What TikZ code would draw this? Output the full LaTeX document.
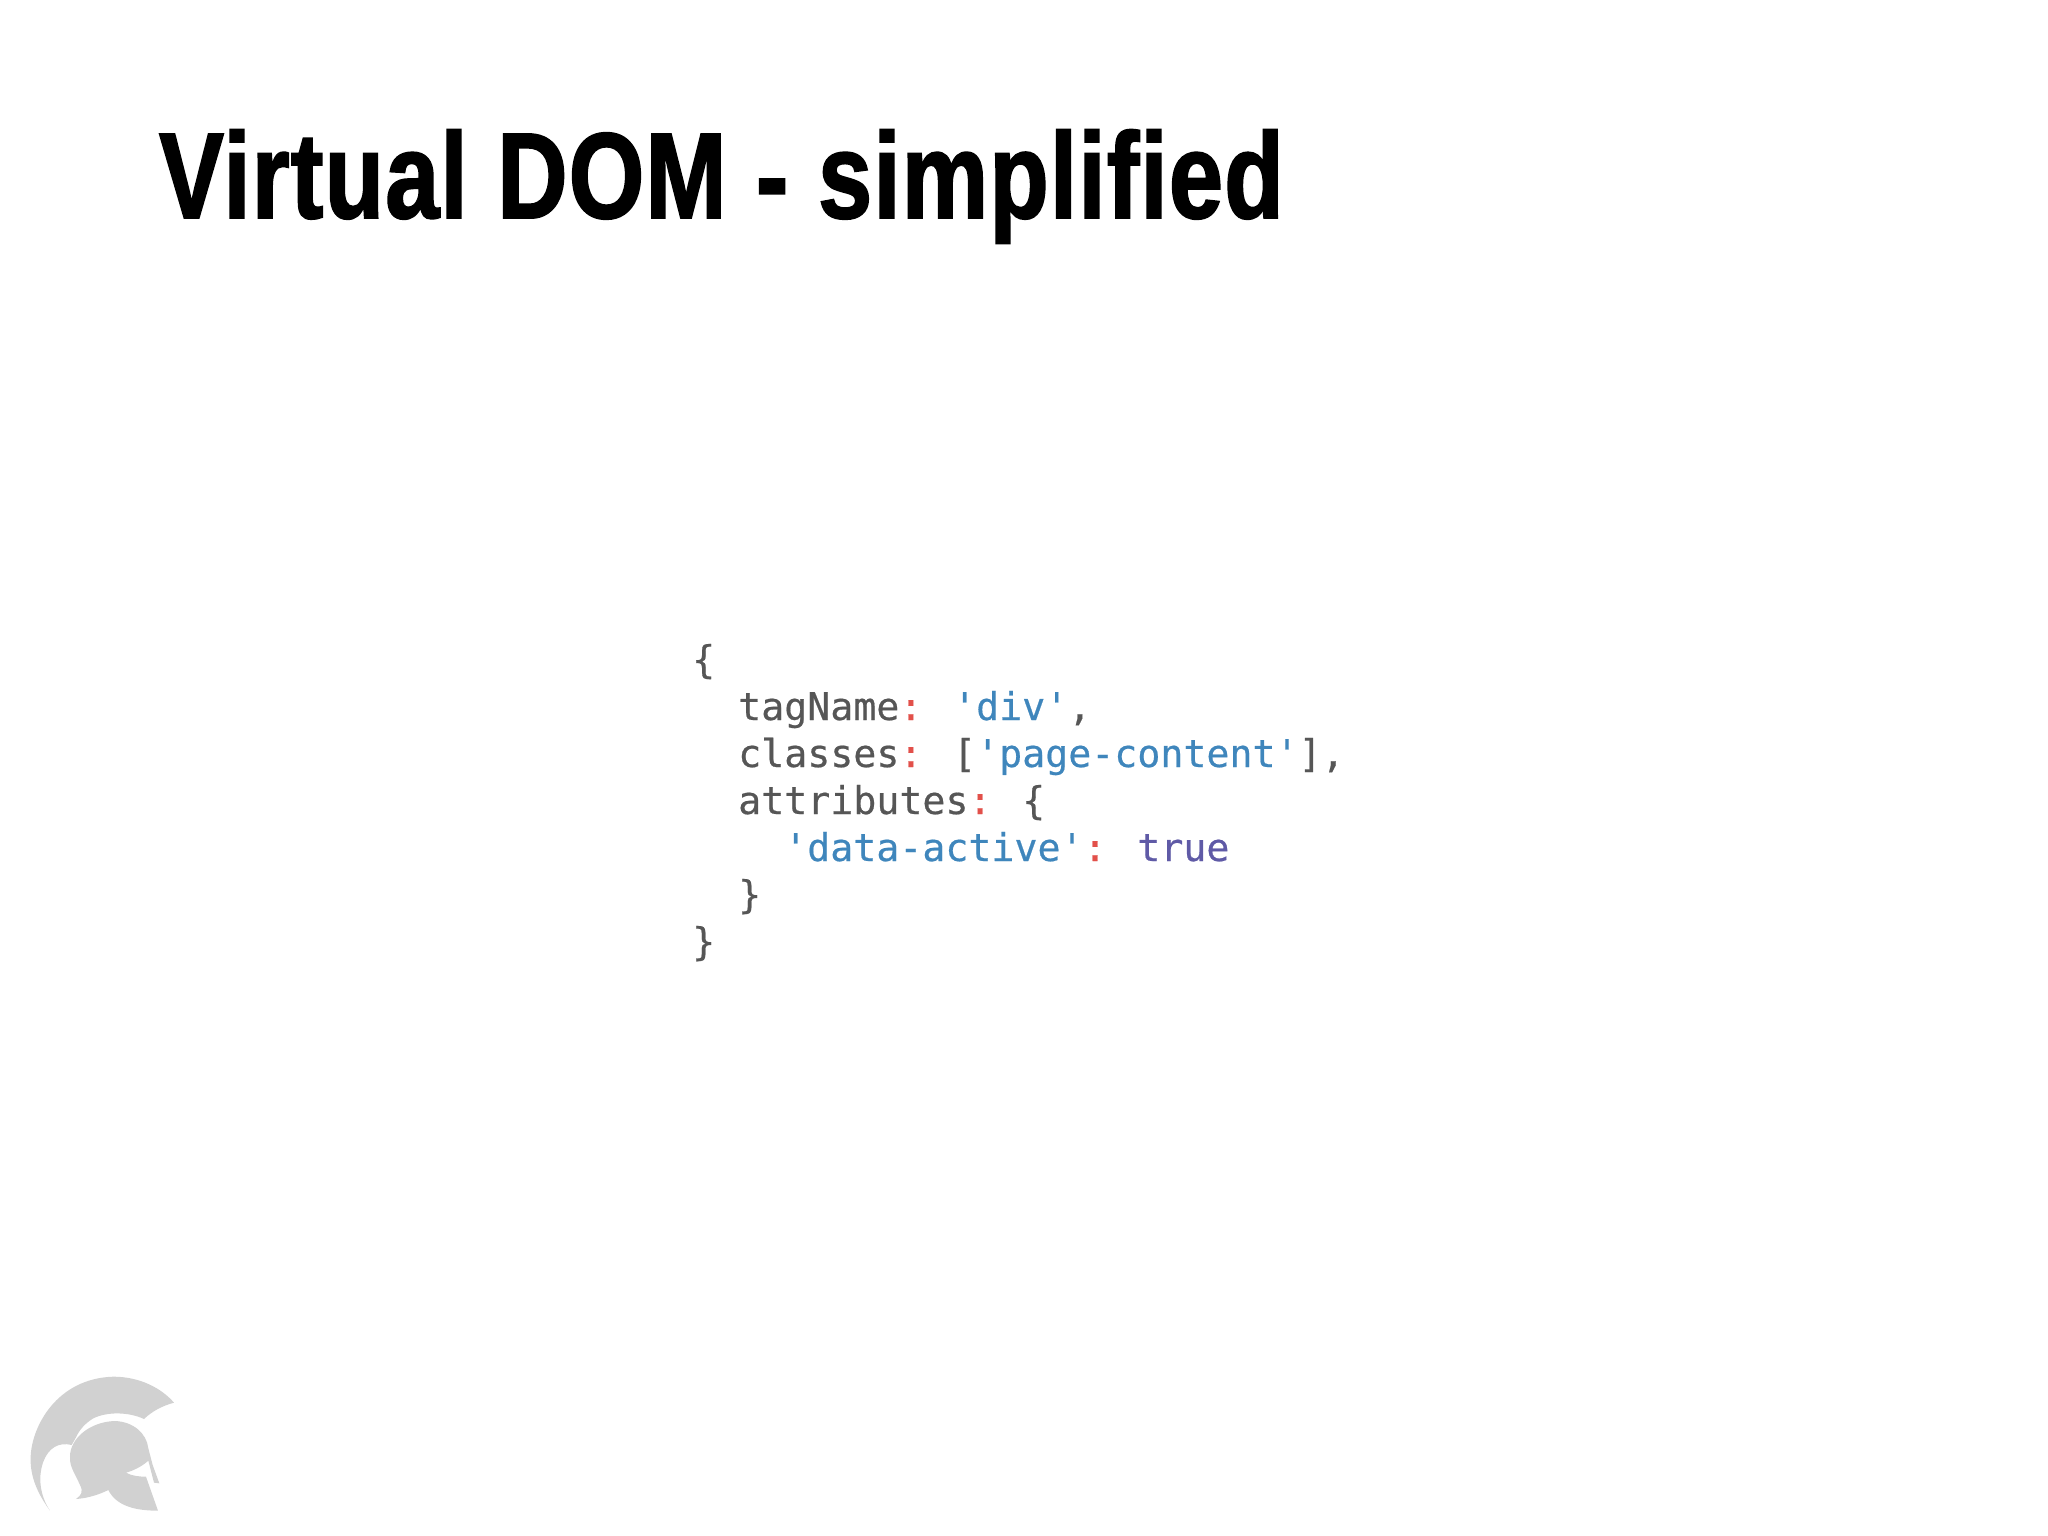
\documentclass[tikz,border=0pt]{standalone}
\usepackage{fontspec}
\setmainfont{Liberation Sans}
\newfontfamily\titlefont[FakeStretch=0.794,FakeBold=1.6,LetterSpace=1.2,WordSpace=1.05]{Liberation Sans Bold}
\newfontfamily\codefont[FakeBold=0.5]{DejaVu Sans Mono}
\definecolor{codegrey}{HTML}{565656}
\definecolor{codeblue}{HTML}{3F86BC}
\definecolor{codered}{HTML}{E2504A}
\definecolor{codepurple}{HTML}{5F5AA6}
\definecolor{logogrey}{HTML}{D1D1D1}
\newcommand{\kk}[1]{\textcolor{codegrey}{#1}}
\newcommand{\bb}[1]{\textcolor{codeblue}{#1}}
\newcommand{\rr}[1]{\textcolor{codered}{#1}}
\newcommand{\pp}[1]{\textcolor{codepurple}{#1}}
\tikzset{
  titletext/.style={inner sep=0pt,anchor=base west,font=\titlefont\fontsize{122}{122}\selectfont,text=black},
  codeline/.style={inner sep=0pt,anchor=base west,font=\codefont\fontsize{38.25}{47}\selectfont,text=codegrey},
  logoshape/.style={fill=logogrey,draw=none}
}
\begin{document}
\begin{tikzpicture}[x=1pt,y=-1pt]
\useasboundingbox (0,0) rectangle (2048,1536);
\node[titletext] (title) at (159,218) {Virtual DOM - simplified};
\node[codeline] (l1) at (692,673) {\kk{\{}};
\node[codeline] (l2) at (738,720) {\kk{tagName}\rr{:} \bb{'div'}\kk{,}};
\node[codeline] (l3) at (738,767) {\kk{classes}\rr{:} \kk{[}\bb{'page-content'}\kk{],}};
\node[codeline] (l4) at (738,814) {\kk{attributes}\rr{:} \kk{\{}};
\node[codeline] (l5) at (784,861) {\bb{'data-active'}\rr{:} \pp{true}};
\node[codeline] (l6) at (738,908) {\kk{\}}};
\node[codeline] (l7) at (692,955) {\kk{\}}};
\begin{scope}[shift={(0pt,-1350pt)},x=0.33333pt,y=-0.33333pt]
\fill[logoshape] (150,482) .. controls (105,420) and (90,370) .. (92,320)
  .. controls (95,230) and (170,85) .. (340,80)
  .. controls (420,80) and (485,115) .. (522,158)
  .. controls (485,168) and (455,185) .. (432,207)
  .. controls (385,185) and (320,185) .. (280,205)
  .. controls (255,220) and (238,240) .. (228,262)
  -- (215,285)
  .. controls (175,275) and (145,295) .. (130,335)
  .. controls (112,385) and (122,440) .. (150,482) -- cycle;
\fill[logoshape] (345,213) .. controls (400,215) and (440,250) .. (445,295)
  -- (458,345) -- (478,400) -- (462,398) -- (445,332)
  .. controls (425,350) and (400,362) .. (378,368)
  .. controls (395,378) and (420,380) .. (438,380)
  -- (474,482)
  .. controls (410,482) and (350,470) .. (325,420)
  .. controls (295,435) and (260,445) .. (228,447)
  .. controls (245,435) and (250,425) .. (240,405)
  .. controls (225,370) and (208,350) .. (210,320)
  .. controls (210,265) and (270,215) .. (345,213) -- cycle;
\end{scope}
\end{tikzpicture}
\end{document}
